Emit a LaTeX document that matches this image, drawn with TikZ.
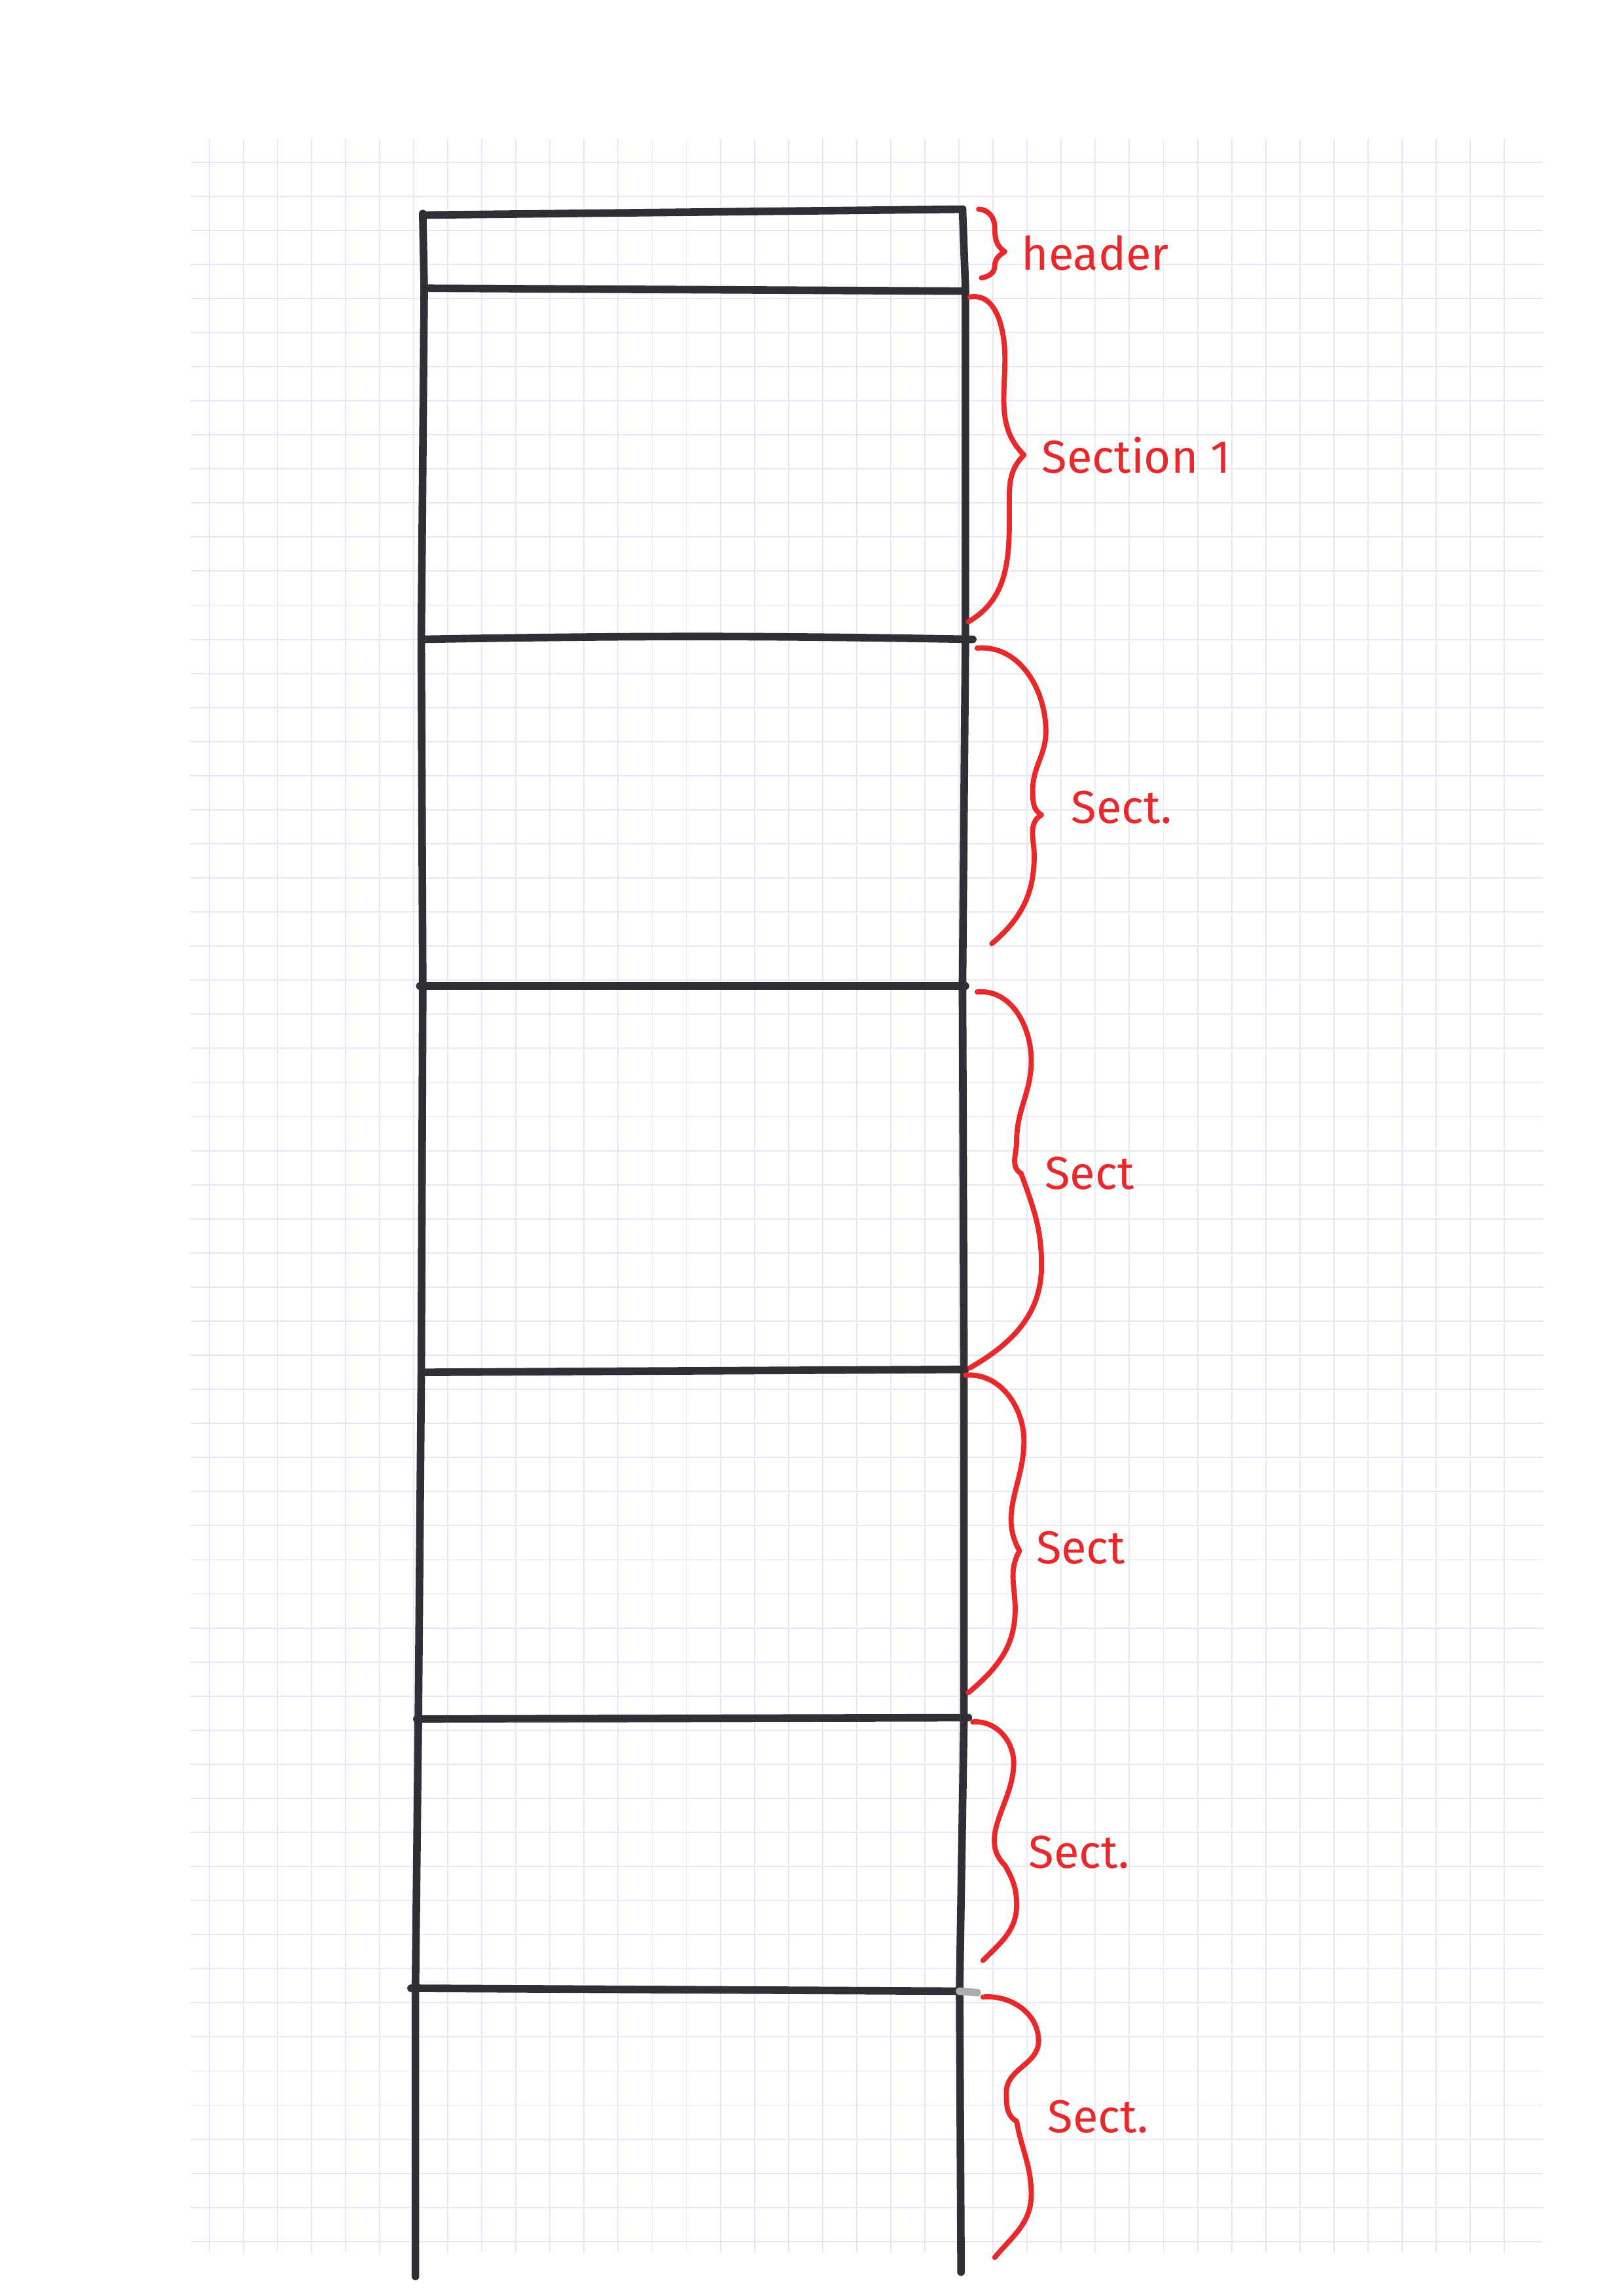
\documentclass[tikz,border=0pt]{standalone}
\usepackage{fontspec}
\setmainfont{Fira Sans}
\usetikzlibrary{positioning}

\definecolor{penred}{RGB}{232,40,42}
\definecolor{penblack}{RGB}{50,46,54}
\definecolor{gridblue}{RGB}{229,232,247}

\tikzset{
  gridline/.style={gridblue, line width=0.45pt},
  frameline/.style={penblack, line width=2.8pt, line cap=round, line join=round},
  bracepen/.style={penred, line width=1.9pt, line cap=round, line join=round},
  sectlabel/.style={penred, anchor=west, inner sep=0pt, font=\fontsize{17}{20}\selectfont}
}

\begin{document}
\begin{tikzpicture}[x=0.018919cm, y=-0.018919cm]
% --- PAGE ---
  \fill[white] (0,0) rectangle (1110,1568);
  \useasboundingbox (0,0) rectangle (1110,1568);

  % squared paper
  \foreach \gx in {143,166.3,...,1050} {
    \draw[gridline] (\gx,95) -- (\gx,1540);
  }
  \foreach \gy in {110.8,134.1,...,1540} {
    \draw[gridline] (130,\gy) -- (1055,\gy);
  }

% --- PAGE LAYOUT ---
  % side lines
  \draw[frameline] (289,146) -- (290,197) -- (288,437) -- (289,674) -- (288,937)
    -- (286,1174) -- (284,1360) -- (284,1556);
  \draw[frameline] (658,143) -- (660,197) -- (660,437) -- (658,674) -- (659,937)
    -- (659,1174) -- (656,1360) -- (657,1553);

  % header and section rules
  \draw[frameline] (289,147) -- (658,143);
  \draw[frameline] (290,197) -- (660,199);
  \draw[frameline] (288,437) to[bend left=1] (665,437);
  \draw[frameline] (287,674) -- (660,674);
  \draw[frameline] (289,938) -- (660,936);
  \draw[frameline] (285,1175) -- (662,1174);
  \draw[frameline] (281,1359) -- (656,1361);
  \draw[frameline, penblack!40] (656,1361) -- (668,1362);

% --- BRACES ---
  % header
  \coordinate (tiphead) at (687,172);
  \draw[bracepen] (669,143) to[out=0,in=90] (680,155) to[out=-90,in=150] (tiphead)
    to[out=-150,in=90] (680,182) to[out=-90,in=10] (671,190);
  \node[sectlabel] (lblhead) at (698,173) {header};

  % section 1
  \coordinate (tipsecA) at (700,311);
  \draw[bracepen] (663,203) to[out=10,in=90] (687,245) to[out=-90,in=135] (tipsecA)
    to[out=-135,in=90] (690,340) to[out=-90,in=30] (662,425);
  \node[sectlabel] (lblsecA) at (712,311) {Section 1};

  % section 2
  \coordinate (tipsecB) at (712,557);
  \draw[bracepen] (668,443) to[out=5,in=90] (715,500) to[out=-90,in=90] (706,540)
    to[out=-90,in=150] (tipsecB) to[out=-150,in=90] (707,585) to[out=-90,in=40] (678,645);
  \node[sectlabel] (lblsecB) at (732,552) {Sect.};

  % section 3
  \coordinate (tipsecC) at (698,802);
  \draw[bracepen] (668,678) to[out=5,in=90] (705,725) to[out=-90,in=90] (695,780)
    to[out=-90,in=150] (tipsecC) to[out=-70,in=90] (712,865) to[out=-90,in=30] (663,935);
  \node[sectlabel] (lblsecC) at (714,802) {Sect};

  % section 4
  \coordinate (tipsecD) at (697,1060);
  \draw[bracepen] (660,940) to[out=5,in=90] (700,985) to[out=-90,in=120] (tipsecD)
    to[out=-120,in=90] (694,1100) to[out=-90,in=40] (662,1157);
  \node[sectlabel] (lblsecD) at (708,1058) {Sect};

  % section 5
  \coordinate (tipsecE) at (687,1275);
  \draw[bracepen] (665,1177) to[out=5,in=90] (693,1205) to[out=-90,in=135] (tipsecE)
    to[out=-60,in=90] (695,1302) to[out=-90,in=45] (672,1340);
  \node[sectlabel] (lblsecE) at (703,1266) {Sect.};

  % section 6
  \coordinate (tipsecF) at (695,1450);
  \draw[bracepen] (672,1365) to[out=5,in=90] (710,1395) to[out=-90,in=90] (688,1430)
    to[out=-90,in=150] (tipsecF) to[out=-80,in=90] (705,1500) to[out=-90,in=50] (680,1543);
  \node[sectlabel] (lblsecF) at (716,1447) {Sect.};
\end{tikzpicture}
\end{document}
